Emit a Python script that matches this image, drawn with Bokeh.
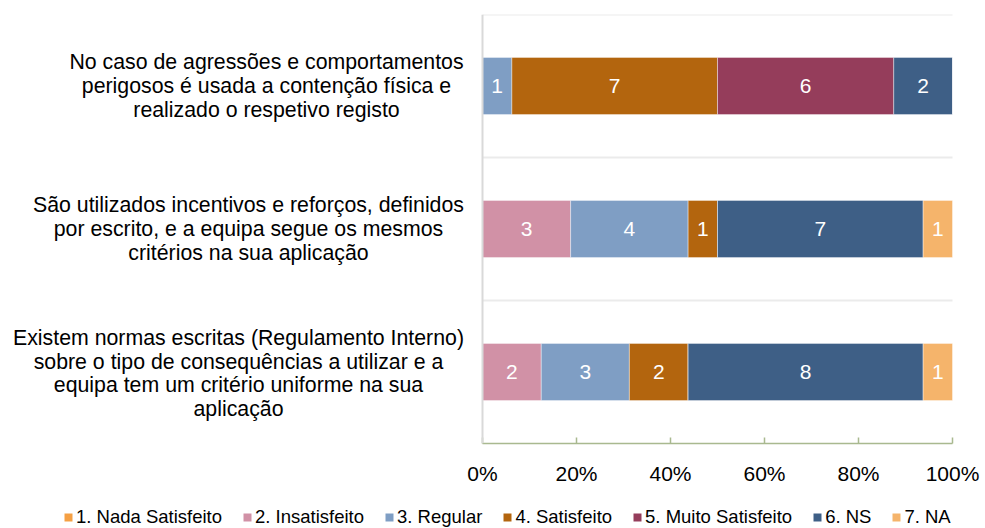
from bokeh.plotting import figure
from bokeh.layouts import column
from bokeh.models import (ColumnDataSource, FactorRange, Range1d, NumeralTickFormatter,
                          Span, Legend, LegendItem)
from bokeh.embed import file_html
from bokeh.resources import INLINE
from bokeh.core.properties import value

# ---------------- data (bottom to top) ----------------
categories = [
    "Existem normas escritas (Regulamento Interno)\nsobre o tipo de consequências a utilizar e a\nequipa tem um critério uniforme na sua\naplicação",
    "São utilizados incentivos e reforços, definidos\npor escrito, e a equipa segue os mesmos\ncritérios na sua aplicação",
    "No caso de agressões e comportamentos\nperigosos é usada a contenção física e\nrealizado o respetivo registo",
]
series = ["1. Nada Satisfeito", "2. Insatisfeito", "3. Regular", "4. Satisfeito",
          "5. Muito Satisfeito", "6. NS", "7. NA"]
nada_satisfeito = [0, 0, 0]
insatisfeito = [2, 3, 0]
regular = [3, 4, 1]
satisfeito = [2, 1, 7]
muito_satisfeito = [0, 0, 6]
ns = [8, 7, 2]
na = [1, 1, 0]
x_ticks = [0, 0.2, 0.4, 0.6, 0.8, 1.0]

counts = [nada_satisfeito, insatisfeito, regular, satisfeito, muito_satisfeito, ns, na]

# ---------------- styles / layout ----------------
colors = ["#F5A044", "#D191A6", "#7F9EC4", "#B3650E", "#953D5B", "#3E5F86", "#F5B46B"]
FONT = "Liberation Sans"
W = 985
MAIN_H, LEG_H = 498, 30
PLOT_LEFT, PLOT_RIGHT = 482, 952      # pixel position of 0% and 100%
label_centers = [238, 248, 266]       # pixel centre of each category text block
label_shift = [1.5, 0, 0]             # small vertical nudge (px, downwards)
LINE_H = 23.6

totals = [sum(c[i] for c in counts) for i in range(len(categories))]
keys = ["s%d" % k for k in range(len(series))]
data = {"cat": categories}
for k, c in zip(keys, counts):
    data[k] = [v / t for v, t in zip(c, totals)]
source = ColumnDataSource(data)

# value labels inside bars
lx, ly, lt = [], [], []
for i, cat in enumerate(categories):
    cum = 0.0
    for c in counts:
        frac = c[i] / totals[i]
        if c[i] > 0:
            lx.append(cum + frac / 2)
            ly.append(cat)
            lt.append(str(c[i]))
        cum += frac
lab_src = ColumnDataSource(dict(x=lx, y=ly, t=lt))

# category text lines
cx, cy, ct, cxo, cyo = [], [], [], [], []
for i, cat in enumerate(categories):
    lines = cat.split("\n")
    n = len(lines)
    for j, line in enumerate(lines):
        cx.append(0)
        cy.append(cat)
        ct.append(line)
        cxo.append(label_centers[i] - PLOT_LEFT)
        cyo.append((j - (n - 1) / 2) * LINE_H + label_shift[i])
cat_src = ColumnDataSource(dict(x=cx, y=cy, t=ct, xo=cxo, yo=cyo))

span_px = PLOT_RIGHT - PLOT_LEFT
p = figure(width=W, height=MAIN_H, output_backend="svg", toolbar_location=None,
           y_range=FactorRange(factors=categories),
           x_range=Range1d(-PLOT_LEFT / span_px, (W - PLOT_LEFT) / span_px),
           min_border_left=0, min_border_right=0,
           min_border_top=14, min_border_bottom=MAIN_H - 443)
p.outline_line_color = None
p.xgrid.grid_line_color = None
p.ygrid.grid_line_color = None
p.yaxis.visible = False

renderers = p.hbar_stack(keys, y="cat", height=0.4, color=colors, source=source,
                         line_color="white", line_width=0.8, line_alpha=0.5)

p.text(x="x", y="y", text="t", source=lab_src, text_color="white",
       text_font=value(FONT), text_font_size="21px",
       text_align="center", text_baseline="middle")

p.text(x="x", y="y", text="t", x_offset="xo", y_offset="yo", source=cat_src,
       text_color="black", text_font=value(FONT), text_font_size="21.3px",
       text_align="center", text_baseline="middle")

# band separators (between categories and at top)
p.segment(x0=[0, 0, 0], x1=[1, 1, 1], y0=[1, 2, 3], y1=[1, 2, 3],
          line_color="#EBEBEB", line_width=2)

# y axis line
p.add_layout(Span(location=0, dimension="height", line_color="#D9D9D9", line_width=2))

# x axis
p.xaxis.bounds = (0, 1)
p.xaxis.ticker = x_ticks
p.xaxis.formatter = NumeralTickFormatter(format="0%")
p.xaxis.axis_line_color = "#A9B98F"
p.xaxis.axis_line_width = 1.5
p.xaxis.major_tick_line_color = "#A9B98F"
p.xaxis.major_tick_line_width = 1.5
p.xaxis.major_tick_in = 6
p.xaxis.major_tick_out = 0
p.xaxis.minor_tick_line_color = None
p.xaxis.major_label_text_font = FONT
p.xaxis.major_label_text_font_size = "21px"
p.xaxis.major_label_text_color = "#000000"
p.xaxis.major_label_standoff = 18

# ---------------- legend strip ----------------
# zero-height copies of the stacked bars, outside the visible x range: only their legend shows
lg = figure(width=W, height=LEG_H, output_backend="svg", toolbar_location=None,
            x_range=Range1d(5, 6), y_range=FactorRange(factors=categories),
            min_border_left=0, min_border_right=0, min_border_top=0, min_border_bottom=0)
lg.axis.visible = False
lg.grid.visible = False
lg.outline_line_color = None
leg_rs = lg.hbar_stack(keys, y="cat", height=0, color=colors, source=source, line_color=None)
legend = Legend(items=[LegendItem(label=s, renderers=[r]) for s, r in zip(series, leg_rs)],
                orientation="horizontal", location=(63, 0),
                glyph_width=10, glyph_height=10, label_standoff=3, spacing=20,
                padding=0, margin=0, border_line_color=None, background_fill_alpha=0,
                label_text_font=FONT, label_text_font_size="18.5px",
                label_text_color="#000000", label_height=20)
lg.add_layout(legend)

layout = column(p, lg, spacing=0)
open("out.html", "w").write(file_html(layout, INLINE))
